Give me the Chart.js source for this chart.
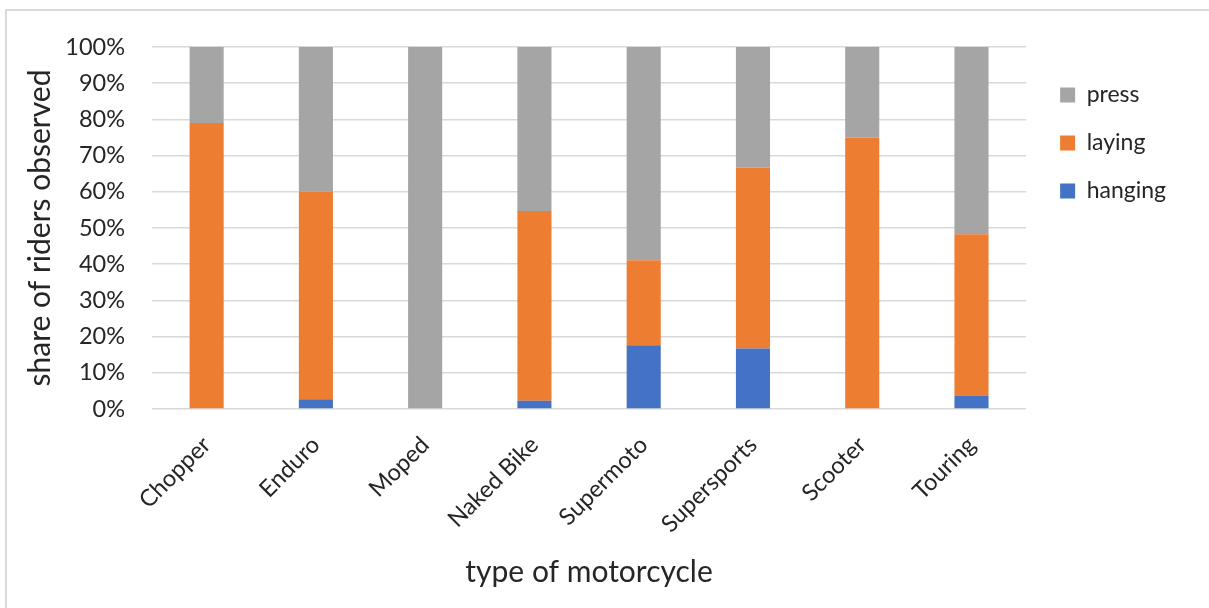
<!DOCTYPE html>
<html>
<head>
<meta charset="utf-8">
<script src="https://cdn.jsdelivr.net/npm/chart.js@4"></script>
<style>
  html, body { margin: 0; padding: 0; background: #fff; overflow: hidden; }
  #frame { position: absolute; left: 5px; top: 9px; width: 1300px; height: 700px;
           border-left: 2px solid #d9d9d9; border-top: 2px solid #d9d9d9; }
  #wrap { position: absolute; left: 0; top: 0; width: 1209px; height: 608px; }
</style>
</head>
<body>
<div id="frame"></div>
<div id="wrap"><canvas id="c" width="1209" height="608"></canvas></div>
<script>
// Share of riders per riding posture, by motorcycle type (percent)
const categories = ['Chopper', 'Enduro', 'Moped', 'Naked Bike', 'Supermoto', 'Supersports', 'Scooter', 'Touring'];
const hanging = [0, 2.7, 0, 2.3, 17.6, 16.7, 0, 3.7];
const laying  = [79, 57.3, 0, 52.4, 23.5, 50, 75, 44.6];
const press   = [21, 40, 100, 45.3, 58.9, 33.3, 25, 51.7];
const yTicks  = [0, 10, 20, 30, 40, 50, 60, 70, 80, 90, 100];

const textColor = '#262626';
const fontFamily = 'Lato, "Open Sans", sans-serif';

// Leaves a little extra room between the plot and the legend swatches
const legendNudge = {
  id: 'legendNudge',
  afterLayout(chart) {
    const lg = chart.legend;
    if (lg) { lg.left += 9; lg.right += 9; }
  }
};

new Chart(document.getElementById('c'), {
  type: 'bar',
  data: {
    labels: categories,
    datasets: [
      { label: 'hanging', data: hanging, backgroundColor: '#4472C4' },
      { label: 'laying',  data: laying,  backgroundColor: '#ED7D31' },
      { label: 'press',   data: press,   backgroundColor: '#A5A5A5' }
    ]
  },
  plugins: [legendNudge],
  options: {
    responsive: false,
    animation: false,
    datasets: { bar: { categoryPercentage: 1, barPercentage: 0.312, borderWidth: 0 } },
    layout: { padding: { top: 47, left: 0, right: 42, bottom: 0 } },
    plugins: {
      tooltip: { enabled: false },
      legend: {
        position: 'right',
        align: 'start',
        reverse: true,
        title: { display: true, text: '', font: { size: 10, lineHeight: 1 }, padding: { top: 1.5, bottom: 0 } },
        labels: {
          boxWidth: 15,
          boxHeight: 15,
          padding: 25,
          color: textColor,
          font: { family: fontFamily, size: 23 }
        }
      }
    },
    scales: {
      x: {
        stacked: true,
        grid: { display: false, drawTicks: false },
        border: { display: false },
        ticks: {
          color: textColor,
          font: { family: fontFamily, size: 23.5 },
          minRotation: 45,
          maxRotation: 45,
          padding: 22
        },
        title: {
          display: true,
          text: 'type of motorcycle',
          color: textColor,
          font: { family: fontFamily, size: 30 },
          padding: { top: 18, bottom: 18 }
        },
        afterFit: (scale) => { scale.height = 199; }
      },
      y: {
        stacked: true,
        min: 0,
        max: 100,
        afterBuildTicks: (scale) => { scale.ticks = yTicks.map(v => ({ value: v })); },
        grid: { color: '#d9d9d9', lineWidth: 1.5, drawTicks: false },
        border: { display: false },
        ticks: {
          color: textColor,
          font: { family: fontFamily, size: 23.5 },
          padding: 27,
          callback: (v) => v + '%'
        },
        title: {
          display: true,
          text: 'share of riders observed',
          color: textColor,
          font: { family: fontFamily, size: 30 },
          padding: { top: 22, bottom: 22 }
        },
        afterFit: (scale) => { scale.width = 152; }
      }
    }
  }
});
</script>
</body>
</html>
